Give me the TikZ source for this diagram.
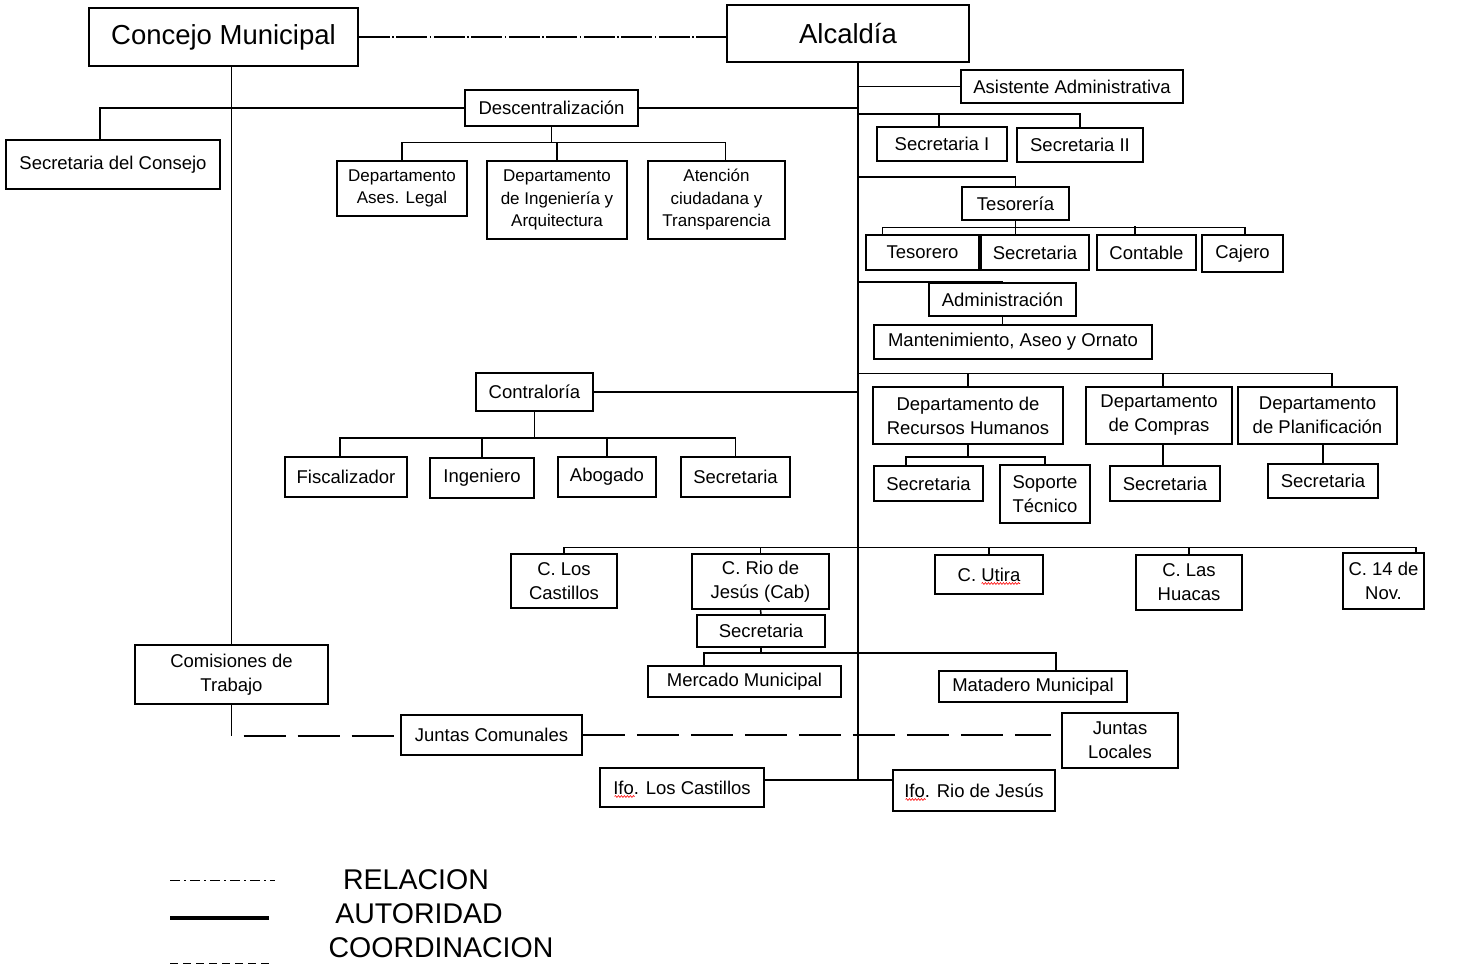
\documentclass[tikz,border=0pt]{standalone}
\usepackage{fontspec}
\setmainfont{Liberation Sans}
\usepackage{xcolor}
\usepackage{tikz}
\usetikzlibrary{decorations.pathmorphing}

\begin{document}
\begin{tikzpicture}[x=1pt, y=-1pt, line width=1.5pt]
  \tikzstyle{box}=[draw, rectangle, inner sep=0pt, align=center, font=\fontsize{18.5}{24}\selectfont]
  \tikzstyle{big}=[font=\fontsize{27.5}{32}\selectfont]
  \tikzstyle{small}=[font=\fontsize{17}{22.5}\selectfont]
  \tikzstyle{legend}=[font=\fontsize{28.5}{34}\selectfont]
  \tikzset{wh/.style 2 args={minimum width=#1pt, minimum height=#2pt}}
  \tikzstyle{relacion}=[dash pattern=on 31pt off 2.5pt on 1.5pt off 2.5pt]
  \tikzstyle{coordinacion}=[dash pattern=on 42pt off 12pt]
  \tikzstyle{autoridad}=[line width=4pt]
  \tikzstyle{spellerr}=[red, line width=0.6pt, decorate, decoration={snake, amplitude=0.9pt, segment length=3pt}]
  \useasboundingbox (0,0) rectangle (1461,968);

  \node[box, big, wh={269}{58}] (concejo) at (223.5,37) {Concejo Municipal};
  \node[box, big, wh={242}{57}] (alcaldia) at (848,33.5) {Alcaldía};
  \node[box, wh={214}{49}] (secconsejo) at (113,164.5) {Secretaria del Consejo};
  \node[box, wh={173}{36}] (descen) at (551.5,108) {Descentralización};
  \node[box, small, wh={130}{55}] (asesoria) at (402,188.5) {Departamento\\Ases. Legal};
  \node[box, small, wh={140}{78}] (ingenieria) at (557,200) {Departamento\\de Ingeniería y\\Arquitectura};
  \node[box, small, wh={137}{78}] (atencion) at (716.5,200) {Atención\\ciudadana y\\Transparencia};
  \node[box, wh={222}{33}] (asistente) at (1072,86.5) {Asistente Administrativa};
  \node[box, wh={130}{34}] (secuno) at (942,144) {Secretaria I};
  \node[box, wh={126}{34}] (secdos) at (1080,145) {Secretaria II};
  \node[box, wh={107}{33}] (tesoreria) at (1015.5,203.5) {Tesorería};
  \node[box, wh={113}{35}] (tesorero) at (922.5,252.5) {Tesorero};
  \node[box, wh={108}{35}] (tessec) at (1035,252.5) {Secretaria};
  \node[box, wh={99}{35}] (contable) at (1146.5,252.5) {Contable};
  \node[box, wh={81}{37}] (cajero) at (1242.5,253.5) {Cajero};
  \node[box, wh={147}{33}] (admin) at (1002.5,299.5) {Administración};
  \node[box, wh={278}{34}] (ornato) at (1013,342) {Mantenimiento, Aseo y Ornato};
  \node[box, wh={190}{57}] (rrhh) at (968,415.5) {Departamento de\\Recursos Humanos};
  \node[box, wh={146}{57}] (compras) at (1159,415.5) {Departamento\\de Compras};
  \node[box, wh={159}{57}] (planif) at (1317.5,415.5) {Departamento\\de Planificación};
  \node[box, wh={109}{35}] (rrhhsec) at (928.5,483.5) {Secretaria};
  \node[box, wh={90}{58}] (soporte) at (1045,494) {Soporte\\Técnico};
  \node[box, wh={110}{35}] (comsec) at (1165,483.5) {Secretaria};
  \node[box, wh={110}{34}] (plansec) at (1323,481) {Secretaria};
  \node[box, wh={117}{38}] (contraloria) at (534.5,392) {Contraloría};
  \node[box, wh={122}{40}] (fiscal) at (346,477) {Fiscalizador};
  \node[box, wh={104}{40}] (ingeniero) at (482,478) {Ingeniero};
  \node[box, wh={98}{40}] (abogado) at (607,477) {Abogado};
  \node[box, wh={109}{40}] (consec) at (735.5,477) {Secretaria};
  \node[box, wh={106}{54}] (castillos) at (564,581) {C. Los\\Castillos};
  \node[box, wh={137}{55}] (riojesus) at (760.5,581.5) {C. Rio de\\Jesús (Cab)};
  \node[box, wh={108}{39}] (utira) at (989,574.5) {C. Utira};
  \node[box, wh={106}{55}] (huacas) at (1189,582.5) {C. Las\\Huacas};
  \node[box, wh={81}{56}] (noviembre) at (1383.5,581) {C. 14 de\\Nov.};
  \node[box, wh={128}{32}] (riosec) at (761,631) {Secretaria};
  \node[box, wh={193}{31}] (mercado) at (744.5,681.5) {Mercado Municipal};
  \node[box, wh={188}{31}] (matadero) at (1033,686.5) {Matadero Municipal};
  \node[box, wh={193}{59}] (comisiones) at (231.5,674.5) {Comisiones de\\Trabajo};
  \node[box, wh={181}{40}] (jcomunales) at (491.5,735) {Juntas Comunales};
  \node[box, wh={116}{55}] (jlocales) at (1120,740.5) {Juntas\\Locales};
  \node[box, wh={164}{39}] (ifocast) at (682,787.5) {Ifo. Los Castillos};
  \node[box, wh={162}{41}] (iforio) at (974,790.5) {Ifo. Rio de Jesús};
  \coordinate (trunkend) at (858,780);

  \draw[spellerr] ([xshift=-7.5pt,yshift=-9pt]utira.center) -- ([xshift=31pt,yshift=-9pt]utira.center);
  \draw[spellerr] ([xshift=-67.5pt,yshift=-9pt]ifocast.center) -- ([xshift=-47.5pt,yshift=-9pt]ifocast.center);
  \draw[spellerr] ([xshift=-68.5pt,yshift=-9pt]iforio.center) -- ([xshift=-48.5pt,yshift=-9pt]iforio.center);

  \draw[relacion] (concejo.east) -- (concejo.east -| alcaldia.west);
  \draw (comisiones.north) -- (comisiones.north |- concejo.south);
  \draw (comisiones.south) -- ++(0,31) coordinate (comfoot);
  \draw[coordinacion, dash phase=42pt] (comfoot) -- (comfoot -| jcomunales.west);
  \draw[coordinacion] (jcomunales.east) -- ([xshift=-10pt]jcomunales.east -| jlocales.west);

  \draw (trunkend |- alcaldia.south) -- (trunkend);
  \draw (descen.east) -- (descen.east -| trunkend);
  \draw (descen.west) -| ([xshift=-13pt]secconsejo.north);
  \draw (descen.south) -- ++(0,16) coordinate (descbar);
  \draw (asesoria.north) |- (descbar) -| ([xshift=9pt]atencion.north);
  \draw (ingenieria.north) -- (ingenieria.north |- descbar);

  \draw (asistente.west) -- (asistente.west -| trunkend);
  \draw ([xshift=-3pt]secuno.north) -- ++(0,-12) coordinate (secbar);
  \draw (secbar -| trunkend) -| (secdos.north);
  \draw (tesoreria.north) -- ++(0,-9) coordinate (tesbar);
  \draw (tesbar) -- (tesbar -| trunkend);
  \draw (tesoreria.south) -- ++(0,7) coordinate (tesbarb);
  \draw ([xshift=-40pt]tesorero.north) |- (tesbarb) -| ([xshift=2.5pt]cajero.north);
  \draw (tesbarb) -- (tesbarb |- tessec.north);
  \draw ([xshift=-11.5pt]contable.north) -- ++(0,-8);

  \draw (admin.north) -- (admin.north -| trunkend);
  \draw (admin.south) -- (admin.south |- ornato.north);
  \draw (rrhh.north) -- ++(0,-13) coordinate (deptbar);
  \draw (deptbar -| trunkend) -| ([xshift=14.5pt]planif.north);
  \draw ([xshift=4pt]compras.north) -- ([xshift=4pt]compras.north |- deptbar);
  \draw (rrhh.south) -- ++(0,12) coordinate (rrhhbar);
  \draw ([xshift=-22.5pt]rrhhsec.north) |- (rrhhbar) -| (soporte.north);
  \draw ([xshift=4pt]compras.south) -- ([xshift=4pt]compras.south |- comsec.north);
  \draw (plansec.north) -- (plansec.north |- planif.south);

  \draw (contraloria.east) -- (contraloria.east -| trunkend);
  \draw (contraloria.south) -- ++(0,26) coordinate (conbar);
  \draw ([xshift=-6pt]fiscal.north) |- (conbar) -| (consec.north);
  \draw (ingeniero.north) -- (ingeniero.north |- conbar);
  \draw (abogado.north) -- (abogado.north |- conbar);

  \draw (castillos.north) -- ++(0,-6) coordinate (combar);
  \draw (combar) -| ([xshift=32.5pt]noviembre.north);
  \foreach \n in {riojesus,utira,huacas}
    \draw (\n.north) -- (\n.north |- combar);
  \draw (riojesus.south) -- (riosec.north);
  \draw (riosec.south) -- ++(0,5) coordinate (riobar);
  \draw ([xshift=-40.5pt]mercado.north) |- (riobar) -| ([xshift=23pt]matadero.north);
  \draw (ifocast.east |- trunkend) -- (iforio.west |- trunkend);

  \coordinate (lrela) at (170,880);
  \coordinate (lrelb) at (275,880);
  \coordinate (lauta) at (170,918);
  \coordinate (lautb) at (269,918);
  \coordinate (lcooa) at (170,963);
  \coordinate (lcoob) at (270,963);
  \draw[line width=1pt, dash pattern=on 10pt off 4pt on 2pt off 4pt] (lrela) -- (lrelb);
  \draw[autoridad] (lauta) -- (lautb);
  \draw[line width=1pt, dash pattern=on 8pt off 5pt] (lcooa) -- (lcoob);
  \node[legend] (trelacion) at (416,880) {RELACION};
  \node[legend] (tautoridad) at (419,914) {AUTORIDAD};
  \node[legend] (tcoordinacion) at (441,948) {COORDINACION};
\end{tikzpicture}
\end{document}
